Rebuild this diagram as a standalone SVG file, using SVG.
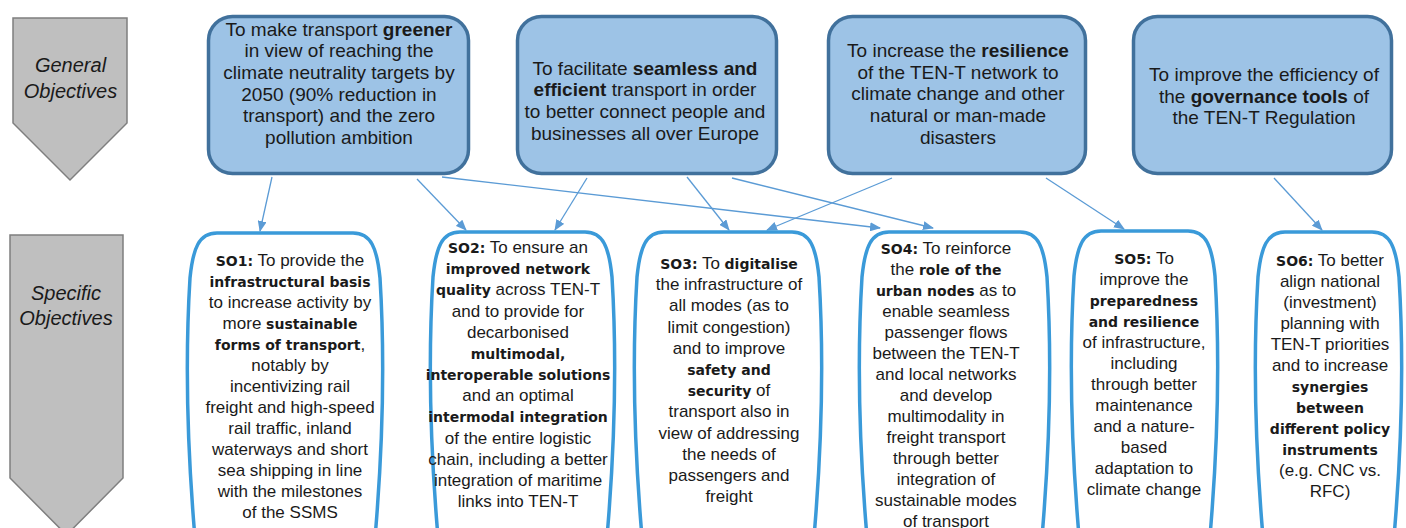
<svg xmlns="http://www.w3.org/2000/svg" width="1406" height="528" viewBox="0 0 1406 528">
<style>
.lab{font-family:"Liberation Sans",Arial,sans-serif;font-style:italic;font-size:20px;fill:#1a1a1a;text-anchor:middle}
.gt{font-family:"Liberation Sans",Arial,sans-serif;font-size:19px;fill:#1a1a1a;text-anchor:middle}
.gt .b{font-weight:bold}
.st{font-family:"Liberation Sans",Arial,sans-serif;font-size:17px;fill:#1a1a1a;text-anchor:middle}
.st .b{font-family:"DejaVu Sans",Verdana,sans-serif;font-weight:bold;font-size:14px}
.arrowshape{fill:#bfbfbf;stroke:#7f7f7f;stroke-width:1.5}
.gbox{fill:#9dc3e6;stroke:#41719c;stroke-width:3.5}
.sbox{fill:#ffffff;stroke:#3a9ad9;stroke-width:3.5}
.con{stroke:#5b9bd5;stroke-width:1.3;fill:none;marker-end:url(#ah)}
</style>
<defs>
<marker id="ah" viewBox="0 0 11 9" refX="10" refY="4.5" markerWidth="11" markerHeight="9" markerUnits="userSpaceOnUse" orient="auto">
<path d="M0,0 L11,4.5 L0,9 z" fill="#5b9bd5"/>
</marker>
</defs>

<g id="label-general">
<polygon class="arrowshape" points="13,18 127,18 127,123 70,180 13,123"/>
<text class="lab" x="70.5" y="72">General</text>
<text class="lab" x="70.5" y="98">Objectives</text>
</g>
<g id="label-specific">
<polygon class="arrowshape" points="10,235 123,235 123,478 66.5,535 10,478"/>
<text class="lab" x="66" y="300">Specific</text>
<text class="lab" x="66" y="325">Objectives</text>
</g>

<g id="connectors">
<line class="con" x1="272" y1="177" x2="260" y2="231"/>
<line class="con" x1="417" y1="179" x2="466" y2="230"/>
<line class="con" x1="442" y1="177" x2="880" y2="228"/>
<line class="con" x1="587" y1="178" x2="555" y2="230"/>
<line class="con" x1="687" y1="177" x2="729" y2="230"/>
<line class="con" x1="732" y1="178" x2="933" y2="228"/>
<line class="con" x1="892" y1="178" x2="767" y2="230"/>
<line class="con" x1="1046" y1="178" x2="1124" y2="229"/>
<line class="con" x1="1274" y1="178" x2="1322" y2="230"/>
</g>

<g id="go1">
<rect class="gbox" x="208.5" y="16.5" width="260" height="157" rx="24"/>
<text class="gt" x="339" y="35.5">To make transport <tspan class="b">greener</tspan></text>
<text class="gt" x="339" y="57.2">in view of reaching the</text>
<text class="gt" x="339" y="78.9">climate neutrality targets by</text>
<text class="gt" x="339" y="100.6">2050 (90% reduction in</text>
<text class="gt" x="339" y="122.3">transport) and the zero</text>
<text class="gt" x="339" y="144">pollution ambition</text>
</g>
<g id="go2">
<rect class="gbox" x="517.5" y="16.5" width="259" height="157" rx="24"/>
<text class="gt" x="645" y="74.5">To facilitate <tspan class="b">seamless and</tspan></text>
<text class="gt" x="645" y="96.2"><tspan class="b">efficient</tspan> transport in order</text>
<text class="gt" x="645" y="117.9">to better connect people and</text>
<text class="gt" x="645" y="139.6">businesses all over Europe</text>
</g>
<g id="go3">
<rect class="gbox" x="828.5" y="16.5" width="257" height="157" rx="24"/>
<text class="gt" x="958" y="57">To increase the <tspan class="b">resilience</tspan></text>
<text class="gt" x="958" y="78.7">of the TEN-T network to</text>
<text class="gt" x="958" y="100.4">climate change and other</text>
<text class="gt" x="958" y="122.1">natural or man-made</text>
<text class="gt" x="958" y="143.8">disasters</text>
</g>
<g id="go4">
<rect class="gbox" x="1133.5" y="16.5" width="258" height="157" rx="24"/>
<text class="gt" x="1264" y="81">To improve the efficiency of</text>
<text class="gt" x="1264" y="102.7">the <tspan class="b">governance tools</tspan> of</text>
<text class="gt" x="1264" y="124.4">the TEN-T Regulation</text>
</g>

<g id="so1">
<path class="sbox" d="M217,233 H353 C371,233 377,248 380,278 C384,343 384,433 375,538 H195 C186,433 186,343 190,278 C193,248 199,233 217,233 Z"/>
<text class="st" x="290" y="266"><tspan class="b">SO1:</tspan> To provide the</text>
<text class="st" x="290" y="287"><tspan class="b">infrastructural basis</tspan></text>
<text class="st" x="290" y="308">to increase activity  by</text>
<text class="st" x="290" y="329">more <tspan class="b">sustainable</tspan></text>
<text class="st" x="290" y="350"><tspan class="b">forms of transport</tspan>,</text>
<text class="st" x="290" y="371">notably by</text>
<text class="st" x="290" y="392">incentivizing rail</text>
<text class="st" x="290" y="413">freight and high-speed</text>
<text class="st" x="290" y="434">rail traffic, inland</text>
<text class="st" x="290" y="455">waterways and short</text>
<text class="st" x="290" y="476">sea shipping in line</text>
<text class="st" x="290" y="497">with the milestones</text>
<text class="st" x="290" y="518">of the SSMS</text>
</g>

<g id="so2">
<path class="sbox" d="M460,232 H585 C603,232 609,247 612,277 C616,342 616,432 607,537 H438 C429,432 429,342 433,277 C436,247 442,232 460,232 Z"/>
<text class="st" x="518" y="253"><tspan class="b">SO2:</tspan> To ensure an</text>
<text class="st" x="518" y="274.2"><tspan class="b">improved network</tspan></text>
<text class="st" x="518" y="295.3"><tspan class="b">quality</tspan> across TEN-T</text>
<text class="st" x="518" y="316.5">and to provide for</text>
<text class="st" x="518" y="337.7">decarbonised</text>
<text class="st" x="518" y="358.8"><tspan class="b">multimodal,</tspan></text>
<text class="st" x="518" y="380"><tspan class="b">interoperable solutions</tspan></text>
<text class="st" x="518" y="401.2">and an optimal</text>
<text class="st" x="518" y="422.3"><tspan class="b">intermodal integration</tspan></text>
<text class="st" x="518" y="443.5">of the entire logistic</text>
<text class="st" x="518" y="464.7">chain, including a better</text>
<text class="st" x="518" y="485.8">integration of maritime</text>
<text class="st" x="518" y="507">links into TEN-T</text>
</g>

<g id="so3">
<path class="sbox" d="M664,232 H792 C810,232 816,247 819,277 C823,342 823,432 814,537 H642 C633,432 633,342 637,277 C640,247 646,232 664,232 Z"/>
<text class="st" x="729" y="269"><tspan class="b">SO3:</tspan> To <tspan class="b">digitalise</tspan></text>
<text class="st" x="729" y="290.2">the infrastructure of</text>
<text class="st" x="729" y="311.4">all modes (as to</text>
<text class="st" x="729" y="332.6">limit congestion)</text>
<text class="st" x="729" y="353.8">and to improve</text>
<text class="st" x="729" y="375"><tspan class="b">safety and</tspan></text>
<text class="st" x="729" y="396.2"><tspan class="b">security</tspan> of</text>
<text class="st" x="729" y="417.4">transport also in</text>
<text class="st" x="729" y="438.6">view of addressing</text>
<text class="st" x="729" y="459.8">the needs of</text>
<text class="st" x="729" y="481">passengers and</text>
<text class="st" x="729" y="502.2">freight</text>
</g>

<g id="so4">
<path class="sbox" d="M889,232 H1020 C1038,232 1044,247 1047,277 C1051,342 1051,432 1042,537 H867 C858,432 858,342 862,277 C865,247 871,232 889,232 Z"/>
<text class="st" x="946" y="254"><tspan class="b">SO4:</tspan> To reinforce</text>
<text class="st" x="946" y="275">the <tspan class="b">role of the</tspan></text>
<text class="st" x="946" y="296"><tspan class="b">urban nodes</tspan> as to</text>
<text class="st" x="946" y="317">enable seamless</text>
<text class="st" x="946" y="338">passenger flows</text>
<text class="st" x="946" y="359">between the TEN-T</text>
<text class="st" x="946" y="380">and local networks</text>
<text class="st" x="946" y="401">and develop</text>
<text class="st" x="946" y="422">multimodality  in</text>
<text class="st" x="946" y="443">freight transport</text>
<text class="st" x="946" y="464">through better</text>
<text class="st" x="946" y="485">integration of</text>
<text class="st" x="946" y="506">sustainable modes</text>
<text class="st" x="946" y="527">of transport</text>
</g>

<g id="so5">
<path class="sbox" d="M1101,231 H1188 C1206,231 1212,246 1215,276 C1219,341 1219,431 1210,536 H1079 C1070,431 1070,341 1074,276 C1077,246 1083,231 1101,231 Z"/>
<text class="st" x="1144" y="264"><tspan class="b">SO5:</tspan> To</text>
<text class="st" x="1144" y="285">improve the</text>
<text class="st" x="1144" y="306"><tspan class="b">preparedness</tspan></text>
<text class="st" x="1144" y="327"><tspan class="b">and resilience</tspan></text>
<text class="st" x="1144" y="348">of infrastructure,</text>
<text class="st" x="1144" y="369">including</text>
<text class="st" x="1144" y="390">through better</text>
<text class="st" x="1144" y="411">maintenance</text>
<text class="st" x="1144" y="432">and a nature-</text>
<text class="st" x="1144" y="453">based</text>
<text class="st" x="1144" y="474">adaptation  to</text>
<text class="st" x="1144" y="495">climate  change</text>
</g>

<g id="so6">
<path class="sbox" d="M1285,232 H1372 C1390,232 1396,247 1399,277 C1403,342 1403,432 1394,537 H1263 C1254,432 1254,342 1258,277 C1261,247 1267,232 1285,232 Z"/>
<text class="st" x="1330" y="266"><tspan class="b">SO6:</tspan> To better</text>
<text class="st" x="1330" y="287">align national</text>
<text class="st" x="1330" y="308">(investment)</text>
<text class="st" x="1330" y="329">planning with</text>
<text class="st" x="1330" y="350">TEN-T priorities</text>
<text class="st" x="1330" y="371">and to increase</text>
<text class="st" x="1330" y="392"><tspan class="b">synergies</tspan></text>
<text class="st" x="1330" y="413"><tspan class="b">between</tspan></text>
<text class="st" x="1330" y="434"><tspan class="b">different policy</tspan></text>
<text class="st" x="1330" y="455"><tspan class="b">instruments</tspan></text>
<text class="st" x="1330" y="476">(e.g. CNC vs.</text>
<text class="st" x="1330" y="497">RFC)</text>
</g>
</svg>
